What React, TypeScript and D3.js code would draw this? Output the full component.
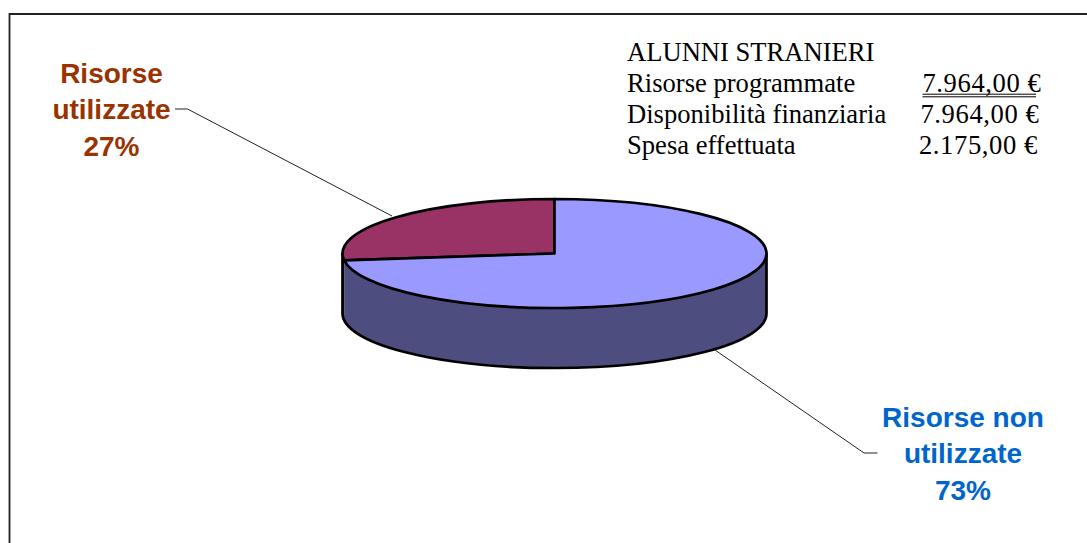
import * as d3 from "d3";

const W = 1087;
const H = 543;

const sliceNames = ["Risorse utilizzate", "Risorse non utilizzate"];
const sliceValues = [27, 73];
const sliceTop = ["#993366", "#9999FF"];
const sliceSide = ["#4D1A33", "#4D4D80"];

const labelLines = [
  ["Risorse", "utilizzate", "27%"],
  ["Risorse non", "utilizzate", "73%"],
];
const labelColors = ["#993300", "#0066CC"];

const tableTitle = "ALUNNI STRANIERI";
const tableRows = ["Risorse programmate", "Disponibilità finanziaria", "Spesa effettuata"];
const tableAmounts = ["7.964,00 €", "7.964,00 €", "2.175,00 €"];
const amountRight = [1041.5, 1039.5, 1038];

// pie geometry
const cx = 554.5;
const cy = 253.5;
const rx = 212;
const ry = 54.5;
const depth = 60;

const px = (a: number) => cx + rx * Math.sin(a);
const py = (a: number) => cy - ry * Math.cos(a);

const pie = d3
  .pie<number>()
  .sort(null)
  .startAngle((-2 * Math.PI * sliceValues[0]) / 100)
  .endAngle(2 * Math.PI - (2 * Math.PI * sliceValues[0]) / 100);

const slices = pie(sliceValues);

function topPath(a0: number, a1: number) {
  const large = a1 - a0 > Math.PI ? 1 : 0;
  return `M${cx},${cy}L${px(a0)},${py(a0)}A${rx},${ry} 0 ${large} 1 ${px(a1)},${py(a1)}Z`;
}

// outer wall between two angles, only the part facing the viewer
function sidePath(a0: number, a1: number) {
  const steps = d3.range(0, 61).map((i) => a0 + ((a1 - a0) * i) / 60);
  const line = d3.line<[number, number]>();
  const upper = steps.map((a) => [px(a), py(a)] as [number, number]);
  const lower = steps
    .slice()
    .reverse()
    .map((a) => [px(a), py(a) + depth] as [number, number]);
  return line([...upper, ...lower]) + "Z";
}

const TWO_PI = 2 * Math.PI;
// slice angles normalised so the front of the disc runs from PI/2 to 3PI/2
const usedSide = [slices[0].startAngle + TWO_PI, (3 * Math.PI) / 2];
const freeSide = [Math.PI / 2, slices[1].endAngle];

const leaders = [
  { points: [[175, 109], [187.5, 109], [392, 216]] },
  { points: [[715, 350], [864, 453], [877.5, 453]] },
];

const labelAnchors = [
  { x: 111.5, y: 82.5 },
  { x: 963, y: 426.5 },
];

const serif = "'Liberation Serif', serif";
const sans = "'Liberation Sans', Arial, sans-serif";

export default function App() {
  const leaderLine = d3.line();
  return (
    <svg
      width={W}
      height={H}
      viewBox={`0 0 ${W} ${H}`}
      style={{ position: "absolute", left: 0, top: 0, background: "#fff" }}
    >
      <path d={`M${W},14H9.5V${H}`} fill="none" stroke="#222" strokeWidth={1.8} />

      {leaders.map((d, i) => (
        <path
          key={i}
          d={leaderLine(d.points as [number, number][]) ?? ""}
          fill="none"
          stroke="#222"
          strokeWidth={1}
        />
      ))}

      {/* wall of the disc */}
      <path d={sidePath(freeSide[0], freeSide[1])} fill={sliceSide[1]} stroke="none" />
      <path d={sidePath(usedSide[0], usedSide[1])} fill={sliceSide[0]} stroke="none" />
      <path
        d={`M${cx - rx},${cy}V${cy + depth}A${rx},${ry} 0 0 0 ${cx + rx},${cy + depth}V${cy}`}
        fill="none"
        stroke="#000"
        strokeWidth={2.7}
      />

      {/* top of the disc */}
      {slices.map((s, i) => (
        <path
          key={sliceNames[i]}
          d={topPath(s.startAngle, s.endAngle)}
          fill={sliceTop[i]}
          stroke="#000"
          strokeWidth={2.7}
          strokeLinejoin="round"
        />
      ))}

      {labelLines.map((lines, i) => (
        <text
          key={i}
          fontFamily={sans}
          fontWeight="bold"
          fontSize={28}
          fill={labelColors[i]}
          textAnchor="middle"
        >
          {lines.map((t, j) => (
            <tspan key={j} x={labelAnchors[i].x} y={labelAnchors[i].y + j * 36.5}>
              {t}
            </tspan>
          ))}
        </text>
      ))}

      <g fontFamily={serif} fontSize={26.6} fill="#000">
        <text x={627} y={60.5}>
          {tableTitle}
        </text>
        {tableRows.map((t, i) => (
          <text key={t} x={627} y={91.5 + i * 31}>
            {t}
          </text>
        ))}
        {tableAmounts.map((t, i) => (
          <text key={i} x={amountRight[i]} y={91.5 + i * 31} textAnchor="end" letterSpacing={0.6}>
            {t}
          </text>
        ))}
      </g>
      <path d="M922.5,94.2H1036M922.5,96.8H1036" fill="none" stroke="#000" strokeWidth={1} />
    </svg>
  );
}
